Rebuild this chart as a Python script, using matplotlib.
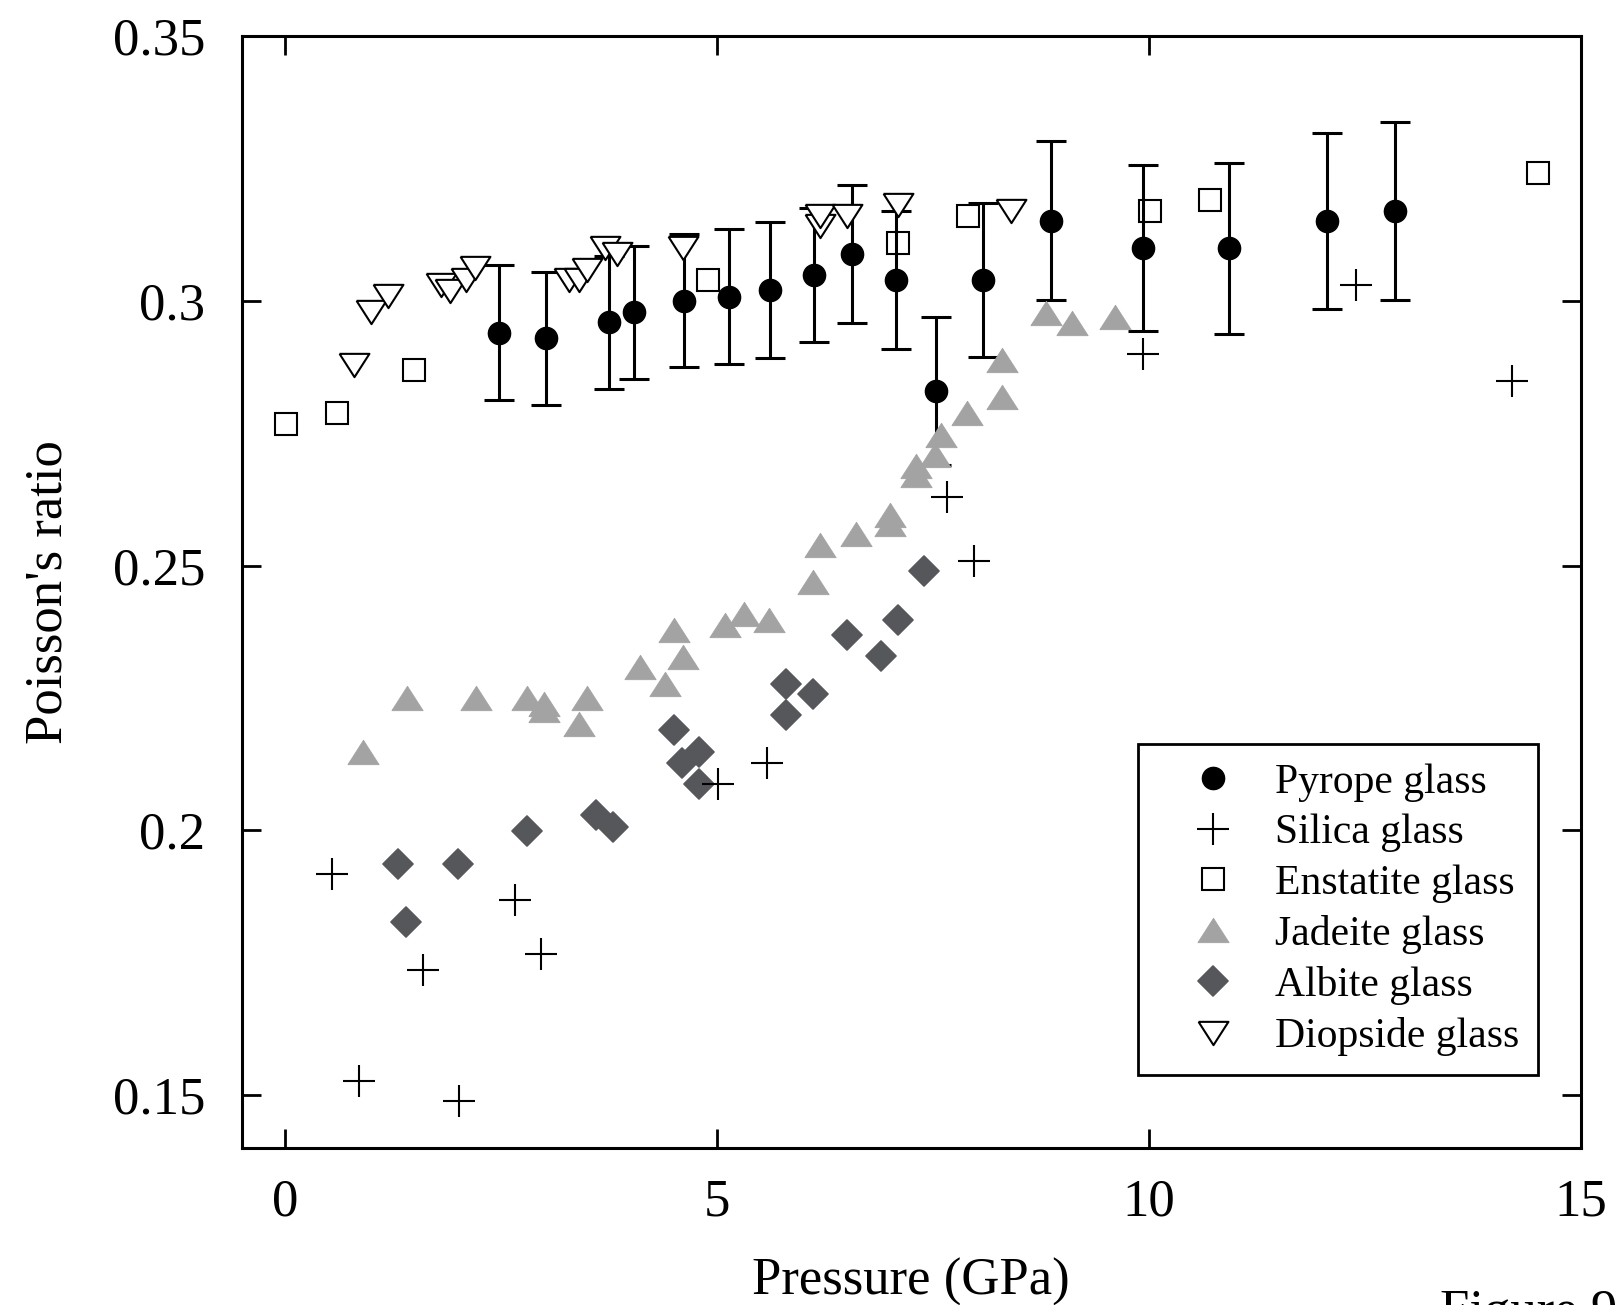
import matplotlib
matplotlib.use("Agg")
import matplotlib.pyplot as plt
from matplotlib.markers import MarkerStyle

# Poisson's ratio of silicate glasses vs pressure
pyrope_p = [2.48, 3.02, 3.75, 4.04, 4.62, 5.14, 5.62, 6.12, 6.57, 7.08, 7.54, 8.08, 8.87, 9.93, 10.93, 12.06, 12.85]
pyrope_v = [0.2940, 0.2929, 0.2959, 0.2978, 0.3000, 0.3008, 0.3020, 0.3049, 0.3088, 0.3039, 0.2829, 0.3039, 0.3151, 0.3099, 0.3099, 0.3151, 0.3170]
pyrope_err = [0.0127, 0.0125, 0.0125, 0.0125, 0.0126, 0.0127, 0.0129, 0.0126, 0.0130, 0.0130, 0.0140, 0.0145, 0.0150, 0.0157, 0.0162, 0.0166, 0.0168]

silica_p = [0.55, 0.86, 1.60, 2.02, 2.67, 2.97, 5.02, 5.58, 7.67, 7.98, 9.93, 12.40, 14.20]
silica_v = [0.1918, 0.1527, 0.1737, 0.1488, 0.1868, 0.1767, 0.2088, 0.2128, 0.2629, 0.2508, 0.2900, 0.3030, 0.2848]

enstatite_p = [0.01, 0.60, 1.50, 4.90, 7.10, 7.91, 10.01, 10.71, 14.51]
enstatite_v = [0.2768, 0.2789, 0.2870, 0.3040, 0.3110, 0.3160, 0.3170, 0.3190, 0.3241]

jadeite_p = [0.91, 1.41, 2.21, 2.80, 3.00, 3.00, 3.41, 3.50, 4.11, 4.40, 4.51, 4.61, 5.10, 5.31, 5.60,
             6.11, 6.20, 6.61, 7.00, 7.00, 7.31, 7.31, 7.52, 7.60, 7.90, 8.30, 8.30, 8.81, 9.11, 9.61]
jadeite_v = [0.2148, 0.2249, 0.2249, 0.2249, 0.2238, 0.2228, 0.2200, 0.2249, 0.2308, 0.2277, 0.2378, 0.2327, 0.2387, 0.2409, 0.2397,
             0.2469, 0.2538, 0.2559, 0.2595, 0.2578, 0.2688, 0.2671, 0.2708, 0.2746, 0.2788, 0.2819, 0.2889, 0.2977, 0.2958, 0.2969]

albite_p = [1.31, 1.405, 2.01, 2.80, 3.60, 3.80, 4.51, 4.60, 4.80, 4.80, 5.80, 5.80, 6.11, 6.51, 6.90, 7.10, 7.40]
albite_v = [0.1937, 0.1827, 0.1937, 0.1998, 0.2028, 0.2007, 0.2189, 0.2128, 0.2148, 0.2088, 0.2277, 0.2217, 0.2258, 0.2368, 0.2329, 0.2398, 0.2490]

diopside_p = [0.80, 1.00, 1.20, 1.81, 1.91, 2.10, 2.20, 3.29, 3.40, 3.50, 3.71, 3.85, 4.61, 6.19, 6.19, 6.51, 7.10, 8.40]
diopside_v = [0.2879, 0.2979, 0.3009, 0.3030, 0.3018, 0.3039, 0.3061, 0.3039, 0.3039, 0.3059, 0.3100, 0.3089, 0.3100, 0.3141, 0.3161, 0.3161, 0.3180, 0.3170]

x_ticks = [0, 5, 10, 15]
x_ticklabels = ["0", "5", "10", "15"]
y_ticks = [0.15, 0.20, 0.25, 0.30, 0.35]
y_ticklabels = ["0.15", "0.2", "0.25", "0.3", "0.35"]

plt.rcParams["font.family"] = ["Liberation Serif", "DejaVu Serif"]

fig = plt.figure(figsize=(16.19, 13.05), dpi=100)
ax = fig.add_axes([0.1492, 0.1203, 0.8272, 0.8521])

# wide triangles like the original markers
tri_up = [(-1, -0.78), (1, -0.78), (0, 0.78), (-1, -0.78)]
tri_down = [(-1, 0.78), (1, 0.78), (0, -0.78), (-1, 0.78)]
diamond = MarkerStyle("D", joinstyle="round")

ax.errorbar(pyrope_p, pyrope_v, yerr=pyrope_err, fmt="none", ecolor="black",
            elinewidth=2.2, capsize=11, capthick=2.2, zorder=1)
ax.plot(pyrope_p, pyrope_v, ls="none", marker="o", ms=16, mfc="black", mec="black",
        mew=1, label="Pyrope glass", zorder=2)
ax.plot(jadeite_p, jadeite_v, ls="none", marker=tri_up, ms=22.5, mfc="#a3a3a3", mec="#a3a3a3",
        mew=0.6, label="Jadeite glass", zorder=3)
ax.plot(albite_p, albite_v, ls="none", marker=diamond, ms=15.2, mfc="#56575a", mec="#56575a",
        mew=1.2, label="Albite glass", zorder=4)
ax.plot(silica_p, silica_v, ls="none", marker="+", ms=23, mec="black", mew=1.5,
        label="Silica glass", zorder=5)
ax.plot(enstatite_p, enstatite_v, ls="none", marker="s", ms=16, mfc="none", mec="black",
        mew=1.5, label="Enstatite glass", zorder=5)
ax.plot(diopside_p, diopside_v, ls="none", marker=tri_down, ms=21.5, mfc="white", mec="black",
        mew=1.5, label="Diopside glass", zorder=6)

ax.set_xlim(-0.5, 15)
ax.set_ylim(0.14, 0.35)
ax.set_xticks(x_ticks)
ax.set_xticklabels(x_ticklabels)
ax.set_yticks(y_ticks)
ax.set_yticklabels(y_ticklabels)
ax.tick_params(axis="both", direction="in", length=14, width=2, labelsize=38,
               top=True, right=True)
ax.tick_params(axis="x", pad=22)
ax.tick_params(axis="y", pad=26)
for s in ax.spines.values():
    s.set_linewidth(2.2)

ax.set_xlabel("Pressure (GPa)", fontsize=38)
ax.set_ylabel("Poisson's ratio", fontsize=38)
ax.xaxis.set_label_coords(0.5, -0.099)
ax.yaxis.set_label_coords(-0.126, 0.5)

handles, labels = ax.get_legend_handles_labels()
order = ["Pyrope glass", "Silica glass", "Enstatite glass", "Jadeite glass", "Albite glass", "Diopside glass"]
hmap = dict(zip(labels, handles))
leg = ax.legend([hmap[k] for k in order], order, loc="lower left", bbox_to_anchor=(0.669, 0.0658),
                borderaxespad=0, fontsize=30, frameon=True, fancybox=False, framealpha=1,
                borderpad=0.45, handlelength=2.7, handletextpad=0.15, labelspacing=0.29,
                numpoints=1)
leg.get_frame().set_edgecolor("black")
leg.get_frame().set_linewidth(2)

# caption cut off at the bottom edge of the original page
fig.text(1440 / 1619, 0.012, "Figure 9", fontsize=38, va="top", ha="left")

fig.savefig("out.png", dpi=100)
